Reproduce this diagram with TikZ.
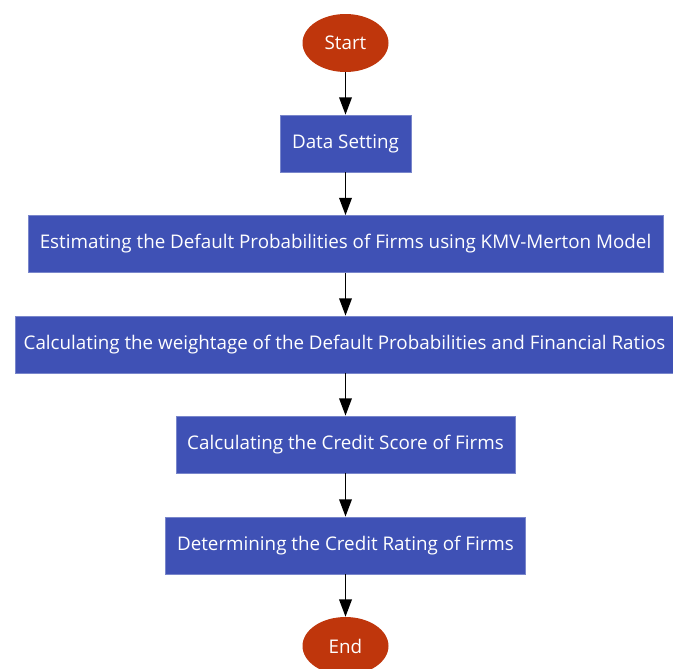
\documentclass[tikz,border=0pt]{standalone}
\usepackage{fontspec}
\setmainfont{Open Sans}
\usetikzlibrary{shapes.geometric, arrows.meta, positioning}
\definecolor{boxblue}{HTML}{3F51B5}
\definecolor{boxedge}{HTML}{7986CB}
\definecolor{termred}{HTML}{BF360C}

\begin{document}
\begin{tikzpicture}[x=0.75pt, y=-0.75pt,
  stepbox/.style={rectangle, fill=boxblue, draw=boxedge, line width=0.6pt, text=white, font=\fontsize{14.1}{17}\selectfont, minimum height=42.75pt, inner sep=0pt},
  term/.style={ellipse, fill=termred, text=white, font=\fontsize{14.1}{17}\selectfont, minimum width=64.5pt, minimum height=43.5pt, inner sep=0pt},
  flow/.style={-{Triangle[length=13pt, width=9.5pt]}, line width=1.1pt}]
\useasboundingbox (0,0) rectangle (673,668);
\node [term] (start) at (345.5,43) {Start};
\node [stepbox, minimum width=98.25pt] (data) at (345.5,143.5) {Data Setting};
\node [stepbox, minimum width=476.25pt] (kmv) at (345.5,244) {Estimating the Default Probabilities of Firms using KMV-Merton Model};
\node [stepbox, minimum width=494.25pt] (weight) at (344.5,344.5) {Calculating the weightage of the Default Probabilities and Financial Ratios};
\node [stepbox, minimum width=254.25pt] (score) at (345.5,444.5) {Calculating the Credit Score of Firms};
\node [stepbox, minimum width=270pt] (rating) at (345.5,545.5) {Determining the Credit Rating of Firms};
\node [term] (end) at (345.5,646) {End};

\draw [flow] (start) -- (data);
\draw [flow] (data) -- (kmv);
\draw [flow] (kmv) -- (kmv |- weight.north);
\draw [flow] (weight.south -| score) -- (score);
\draw [flow] (score) -- (rating);
\draw [flow] (rating) -- (end);
\end{tikzpicture}
\end{document}
